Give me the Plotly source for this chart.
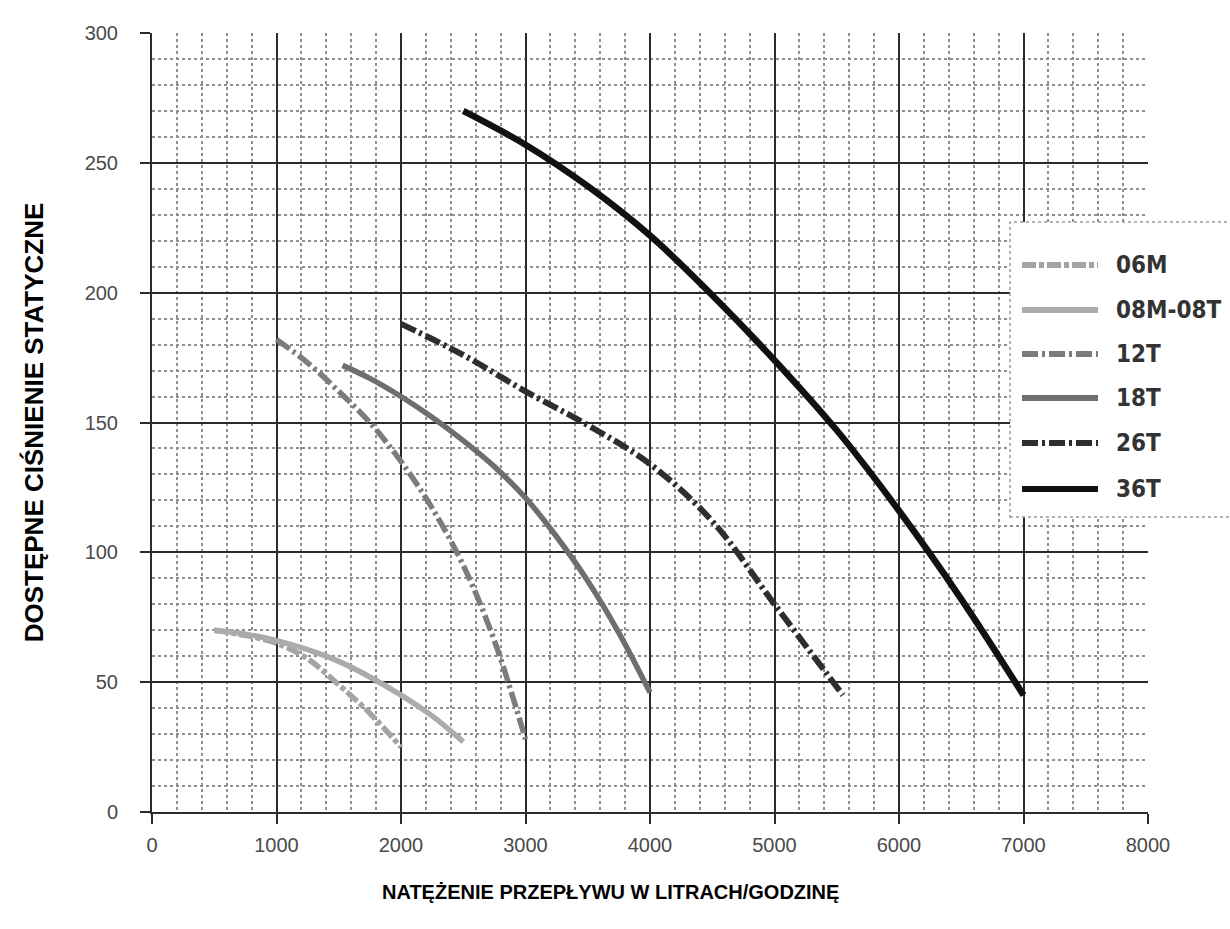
import plotly.graph_objects as go

# Pump curves: available static pressure vs. flow rate (l/h)
series_names = ["06M", "08M-08T", "12T", "18T", "26T", "36T"]

flow_06M = [500, 750, 1000, 1250, 1500, 1750, 2000]
pres_06M = [70, 68, 65, 59, 49, 38, 25]

flow_08M = [500, 750, 1000, 1250, 1500, 1750, 2000, 2250, 2500]
pres_08M = [70, 68.5, 66, 62.5, 58, 52, 45, 37, 27]

flow_12T = [1000, 1250, 1500, 1750, 2000, 2250, 2500, 2750, 3000]
pres_12T = [182, 173, 162, 150, 135, 117, 95, 66, 28]

flow_18T = [1530, 1750, 2000, 2250, 2500, 2750, 3000, 3250, 3500, 3750, 4000]
pres_18T = [172, 167, 160, 152, 143, 133, 121, 106, 89, 69, 46]

flow_26T = [2000, 2500, 3000, 3500, 4000, 4500, 5000, 5550]
pres_26T = [188, 176, 162, 149, 134, 112, 80, 45]

flow_36T = [2500, 3000, 3500, 4000, 4500, 5000, 5500, 6000, 6500, 7000]
pres_36T = [270, 257, 241, 222, 199, 174, 147, 116, 82, 45]

x_ticks = [0, 1000, 2000, 3000, 4000, 5000, 6000, 7000, 8000]
y_ticks = [0, 50, 100, 150, 200, 250, 300]

x_title = "NATĘŻENIE PRZEPŁYWU W LITRACH/GODZINĘ"
y_title = "DOSTĘPNE CIŚNIENIE STATYCZNE"

flows = [flow_06M, flow_08M, flow_12T, flow_18T, flow_26T, flow_36T]
pressures = [pres_06M, pres_08M, pres_12T, pres_18T, pres_26T, pres_36T]

colors = ["#a4a4a4", "#ababab", "#7c7c7c", "#6e6e6e", "#2e2e2e", "#111111"]
dashes = ["14px,3px,5px,3px", "solid", "16px,4px,3px,4px", "solid",
          "16px,4px,3px,4px", "solid"]
widths = [5.5, 5.5, 5.5, 5.5, 6, 6.5]

fig = go.Figure()
for name, fx, py, c, d, w in zip(series_names, flows, pressures, colors, dashes, widths):
    fig.add_trace(go.Scatter(
        x=fx, y=py, mode="lines", name=name, showlegend=False,
        line=dict(color=c, width=w, dash=d, shape="spline", smoothing=1.0),
    ))

tick_font = dict(family="Liberation Sans, Arial, sans-serif", size=20, color="#4a4a4a")

fig.update_xaxes(
    range=[0, 8000], tickvals=x_ticks, ticktext=[str(v) for v in x_ticks],
    showgrid=True, gridcolor="#2a2a2a", gridwidth=2,
    minor=dict(dtick=200, showgrid=True, gridcolor="#8f8f8f", gridwidth=1.5, griddash="dot"),
    showline=True, linecolor="#2a2a2a", linewidth=2,
    ticks="outside", ticklen=10, tickwidth=2, tickcolor="#2a2a2a",
    tickfont=tick_font, zeroline=False, ticklabelstandoff=4,
)
fig.update_yaxes(
    range=[0, 300], tickvals=y_ticks, ticktext=[str(v) for v in y_ticks],
    showgrid=True, gridcolor="#2a2a2a", gridwidth=2,
    minor=dict(dtick=10, showgrid=True, gridcolor="#8f8f8f", gridwidth=1.5, griddash="dot"),
    showline=True, linecolor="#2a2a2a", linewidth=2,
    ticks="outside", ticklen=10, tickwidth=2, tickcolor="#2a2a2a",
    tickfont=tick_font, zeroline=False, ticklabelstandoff=18,
    title=dict(text="<b>" + y_title + "</b>",
               font=dict(family="Liberation Sans, Arial, sans-serif", size=26, color="#000000"),
               standoff=34),
)

# Key box drawn to the right, partly over the grid
L, T = 152, 33
PW, PH = 996, 779


def px(xp):
    return (xp - L) / PW


def py_(yp):
    return (T + PH - yp) / PH


shapes = [dict(type="rect", xref="paper", yref="paper", layer="above",
               x0=px(1010), x1=px(1232), y0=py_(517), y1=py_(222),
               fillcolor="white", line=dict(color="#9a9a9a", width=1.5, dash="dot"))]
annotations = []
row_y = [265, 310, 354, 398, 443, 489]
for name, c, d, yy in zip(series_names, colors, dashes, row_y):
    shapes.append(dict(type="line", xref="paper", yref="paper", layer="above",
                       x0=px(1022), x1=px(1098), y0=py_(yy), y1=py_(yy),
                       line=dict(color=c, width=6, dash=d)))
    annotations.append(dict(xref="paper", yref="paper", x=px(1114), y=py_(yy),
                            xanchor="left", yanchor="middle", showarrow=False,
                            text="<b>" + name + "</b>",
                            font=dict(family="Liberation Sans Narrow, DejaVu Sans Condensed, Arial, sans-serif",
                                      size=24, color="#333333")))

# Horizontal axis caption, set slightly left of the plot centre
annotations.append(dict(xref="paper", yref="paper", x=px(610), y=py_(892),
                        xanchor="center", yanchor="middle", showarrow=False,
                        text="<b>" + x_title + "</b>",
                        font=dict(family="Liberation Sans, Arial, sans-serif", size=20, color="#000000")))

fig.update_layout(
    width=1230, height=929,
    margin=dict(l=L, r=1230 - L - PW, t=T, b=929 - T - PH),
    paper_bgcolor="white", plot_bgcolor="white",
    shapes=shapes, annotations=annotations,
    showlegend=False,
)

fig.write_html("out.html")
